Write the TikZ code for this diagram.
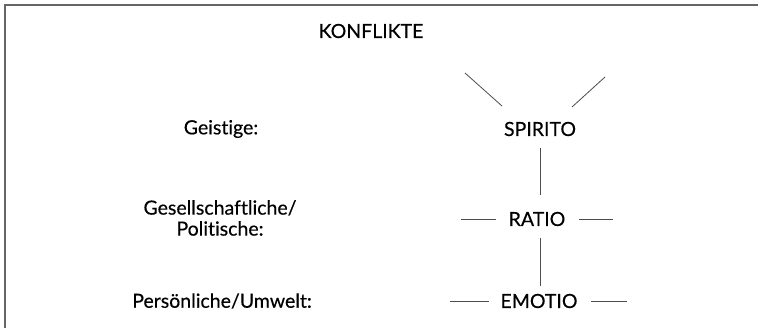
\documentclass[tikz,border=0pt]{standalone}
\usepackage{fontspec}
\setmainfont{Lato}
\newfontfamily\lblfont{Lato}[Ligatures=NoCommon, BoldFont=Lato, BoldFeatures={FakeBold=0.35}]
\begin{document}
\begin{tikzpicture}[x=1pt,y=-1pt,
  lbl/.style={inner sep=0pt, font=\lblfont\bfseries\fontsize{19.5}{21}\selectfont, text=black},
  conn/.style={draw=black!70, line width=0.8pt}]
\useasboundingbox (0,0) rectangle (758,327);
\draw[draw=black!60, line width=1.6pt] (5,330) -- (5,5) -- (760,5);
\node[lbl] (title) at (371,31) {KONFLIKTE};
\node[lbl] (geist) at (221,129) {Geistige:};
\node[lbl, align=center] (gesell) at (220,218) {Gesellschaftliche/\\Politische:};
\node[lbl] (pers) at (222,301) {Persönliche/Umwelt:};
\node[lbl] (spirito) at (540,129) {SPIRITO};
\node[lbl] (ratio) at (537,219) {RATIO};
\node[lbl] (emotio) at (539,301) {EMOTIO};
\coordinate (sl) at (465,73);
\coordinate (sr) at (605,77);
\coordinate (rl) at (461,219);
\coordinate (rr) at (613,219);
\coordinate (el) at (450,301);
\coordinate (er) at (627,301);
\draw[conn] (sl) -- ([xshift=-38pt,yshift=23pt]spirito.center);
\draw[conn] (sr) -- ([xshift=32pt,yshift=22pt]spirito.center);
\draw[conn] ([yshift=-19pt]spirito.center) -- ([yshift=24pt]ratio.center -| spirito.center);
\draw[conn] ([yshift=-19pt]ratio.center -| spirito.center) -- ([yshift=15pt]emotio.center -| spirito.center);
\draw[conn] (rl) -- ([xshift=-41pt]ratio.center);
\draw[conn] ([xshift=42pt]ratio.center) -- (rr);
\draw[conn] (el) -- ([xshift=-50pt]emotio.center);
\draw[conn] ([xshift=52pt]emotio.center) -- (er);
\end{tikzpicture}
\end{document}
